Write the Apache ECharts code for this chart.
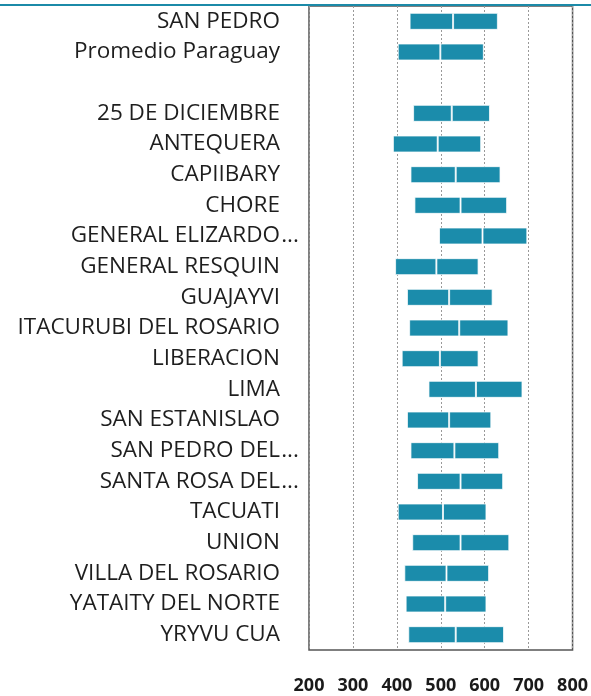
<!DOCTYPE html>
<html>
<head>
<meta charset="utf-8">
<script src="https://cdn.jsdelivr.net/npm/echarts@6/dist/echarts.min.js"></script>
<style>
html,body{margin:0;padding:0;background:#fff;}
#chart{width:591px;height:696px;}
</style>
</head>
<body>
<div id="chart"></div>
<script>
const categories = ["SAN PEDRO","Promedio Paraguay","","25 DE DICIEMBRE","ANTEQUERA","CAPIIBARY","CHORE","GENERAL ELIZARDO...","GENERAL RESQUIN","GUAJAYVI","ITACURUBI DEL ROSARIO","LIBERACION","LIMA","SAN ESTANISLAO","SAN PEDRO DEL...","SANTA ROSA DEL...","TACUATI","UNION","VILLA DEL ROSARIO","YATAITY DEL NORTE","YRYVU CUA"];
const lowValues    = [429,402,null,437,391,431,440,496,396,423,428,411,472,423,431,446,402,435,417,420,426];
const medianValues = [528,499,null,525,493,534,545,595,490,519,542,498,580,519,531,545,505,545,513,510,534];
const highValues   = [630,598,null,612,592,636,651,697,586,618,654,586,686,615,633,642,604,656,610,604,644];
const xTicks = [200,300,400,500,600,700,800];

const lowerPart = lowValues.map((v,i)=> v==null ? null : medianValues[i]-v);
const upperPart = lowValues.map((v,i)=> v==null ? null : highValues[i]-medianValues[i]);

const chart = echarts.init(document.getElementById('chart'), null, {renderer:'canvas'});
const barColor = '#1b8cab';
const segStyle = {color: barColor, borderColor: 'rgba(255,255,255,0.75)', borderWidth: 1};
const labelFont = 22.5;

chart.setOption({
  animation: false,
  grid: {left: 309, right: 18, top: 6, bottom: 46, show: true, borderColor: '#555', borderWidth: 1.5, backgroundColor: 'transparent'},
  xAxis: {
    type: 'value', min: xTicks[0], max: xTicks[xTicks.length-1], interval: 100,
    axisLine: {show: false}, axisTick: {show: false},
    splitLine: {show: true, lineStyle: {color: '#999', type: [2,2], width: 1}},
    axisLabel: {
      margin: 27, color: '#1a1a1a', fontFamily: 'Open Sans', fontWeight: 'bold', fontSize: 18,
      formatter: v => xTicks.indexOf(v) >= 0 ? String(v) : ''
    }
  },
  yAxis: {
    type: 'category', data: categories, inverse: true,
    axisLine: {show: false}, axisTick: {show: false}, splitLine: {show: false},
    axisLabel: {
      margin: 9, color: '#1e1e1e', fontFamily: 'Open Sans', fontSize: labelFont,
      formatter: function (name) {
        if (name.endsWith('...')) return name.slice(0, -3) + '{e|...}';
        return name + '{p| }';
      },
      rich: {
        e: {fontFamily: 'Open Sans', fontSize: labelFont, color: '#1e1e1e', width: 20, align: 'left'},
        p: {fontFamily: 'Open Sans', fontSize: labelFont, width: 20}
      }
    }
  },
  series: [
    {type: 'bar', stack: 'r', data: lowValues, barWidth: 17, itemStyle: {color: 'transparent'}, silent: true},
    {type: 'bar', stack: 'r', data: lowerPart, barWidth: 17, itemStyle: segStyle},
    {type: 'bar', stack: 'r', data: upperPart, barWidth: 17, itemStyle: segStyle}
  ],
  graphic: [
    {type: 'rect', left: 0, top: 4, shape: {width: 591, height: 2}, style: {fill: '#1b8aa8'}, z: 100}
  ]
});
</script>
</body>
</html>
